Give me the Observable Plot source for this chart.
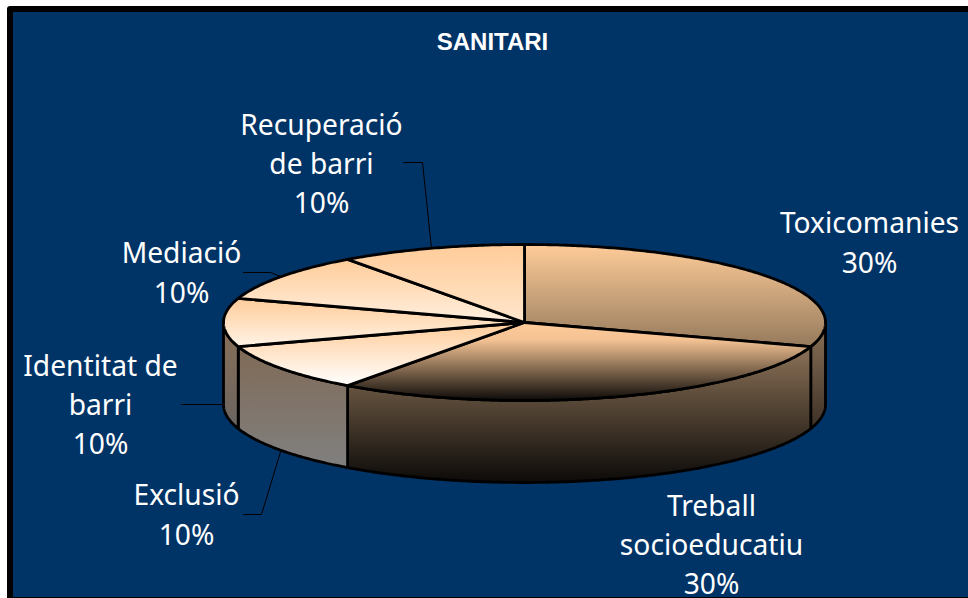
<!DOCTYPE html>
<html lang="ca">
<head>
<meta charset="utf-8">
<script src="https://cdn.jsdelivr.net/npm/d3@7"></script>
<script src="https://cdn.jsdelivr.net/npm/@observablehq/plot@0.6"></script>
<style>html,body{margin:0;padding:0;background:#fff}svg{display:block}</style>
</head>
<body>
<div id="chart"></div>
<script>
// Data
const chartTitle = "SANITARI";
const categories = ["Toxicomanies", "Treball socioeducatiu", "Exclusió", "Identitat de barri", "Mediació", "Recuperació de barri"];
const shares = [30, 30, 10, 10, 10, 10];
const labelLines = ["Toxicomanies", "Treball\nsocioeducatiu", "Exclusió", "Identitat de\nbarri", "Mediació", "Recuperació\nde barri"];

// Layout (drawing space equals the 968 x 598 pixel grid)
const W = 968, H = 598;
const pie = {cx: 524, cy: 322, rx: 301, ry: 78, depth: 82};
const labelPos = [[869, 243], [711, 545], [186, 515], [100, 405], [181, 273], [321, 164]];
const elbows = [null, null, [[243, 514], [261, 514]], [[181, 404]], [[243, 272], [270, 272]], [[403, 162], [422, 162]]];
const topStops = [["#ffcc99", "#957a5c"], ["#ffcc99", "#f4c394", "#0c0a08"], ["#ffcc99", "#ffffff"], ["#ffcc99", "#fff3e6"], ["#ffcc99", "#fff0e0"], ["#ffcc99", "#ffe6cc"]];
const sideStops = [["#8c7258", "#3c3026"], ["#8c7258", "#0c0a08"], ["#806a56", "#808080"], ["#8a7058", "#6a6460"]];

// Slice angles, clockwise from 12 o'clock
const total = d3.sum(shares);
const cum = d3.cumsum(shares);
const slices = categories.map((name, i) => ({
  name, i,
  a0: (i ? cum[i - 1] : 0) / total * 2 * Math.PI,
  a1: cum[i] / total * 2 * Math.PI
}));
const at = (a, dz = 0) => ({x: pie.cx + pie.rx * Math.sin(a), y: pie.cy - pie.ry * Math.cos(a) + dz});
const arc = (a0, a1, dz = 0) => {
  const n = Math.max(2, Math.ceil((a1 - a0) / 0.01));
  return d3.range(n + 1).map(k => at(a0 + (a1 - a0) * k / n, dz));
};
const topPoly = s => [{x: pie.cx, y: pie.cy}, ...arc(s.a0, s.a1)];
const sidePoly = s => {
  const a0 = Math.max(s.a0, Math.PI / 2), a1 = Math.min(s.a1, 3 * Math.PI / 2);
  return a1 > a0 ? [...arc(a0, a1), ...arc(a0, a1, pie.depth).reverse()] : null;
};

function defs() {
  const d = d3.create("svg:defs");
  const grad = (id, cs) => {
    const g = d.append("linearGradient").attr("id", id).attr("x1", 0).attr("y1", 0).attr("x2", 0).attr("y2", 1);
    const offsets = cs.length === 3 ? [0, 0.22, 1] : [0, 1];
    cs.forEach((c, k) => g.append("stop").attr("offset", offsets[k]).attr("stop-color", c));
  };
  topStops.forEach((c, i) => grad("top" + i, c));
  sideStops.forEach((c, i) => grad("side" + i, c));
  return d.node();
}

const edge = {stroke: "#000", strokeWidth: 2.8, strokeLinejoin: "round", curve: "linear-closed"};
const line = {x: "x", y: "y"};

const sideMarks = slices
  .map(s => ({s, p: sidePoly(s)}))
  .filter(d => d.p)
  .map(({s, p}) => Plot.line(p, {...line, ...edge, fill: `url(#side${s.i})`}));
const topMarks = slices.map(s => Plot.line(topPoly(s), {...line, ...edge, fill: `url(#top${s.i})`}));

const leaders = slices.filter(s => elbows[s.i]).map(s => {
  const mid = (s.a0 + s.a1) / 2;
  const end = at(mid, Math.cos(mid) <= 1e-9 ? pie.depth : 0);
  return Plot.line([...elbows[s.i].map(([x, y]) => ({x, y})), end], {...line, stroke: "#000", strokeWidth: 1});
});

const labels = slices.map(s => ({
  text: `${labelLines[s.i]}\n${shares[s.i]}%`,
  x: labelPos[s.i][0], y: labelPos[s.i][1] - 3
}));

const chart = Plot.plot({
  width: W, height: H, margin: 0,
  style: {background: "#fff", overflow: "hidden"},
  x: {domain: [0, W], range: [0, W], axis: null},
  y: {domain: [0, H], range: [0, H], axis: null},
  marks: [
    defs,
    Plot.rect([{x1: 10, x2: W + 40, y1: 9, y2: H + 2}], {x1: "x1", x2: "x2", y1: "y1", y2: "y2", fill: "#003366", stroke: "#000", strokeWidth: 6, strokeLinejoin: "round"}),
    ...leaders,
    ...sideMarks,
    ...topMarks,
    Plot.text([chartTitle], {x: () => 492, y: () => 42, text: d => d, fill: "#fff", fontFamily: "Liberation Sans", fontWeight: "bold", fontSize: 24}),
    Plot.text(labels, {x: "x", y: "y", text: "text", fill: "#fff", fontFamily: "Noto Sans", fontSize: 28.2, lineHeight: 1.39, textAnchor: "middle"})
  ]
});
document.getElementById("chart").append(chart);
</script>
</body>
</html>
